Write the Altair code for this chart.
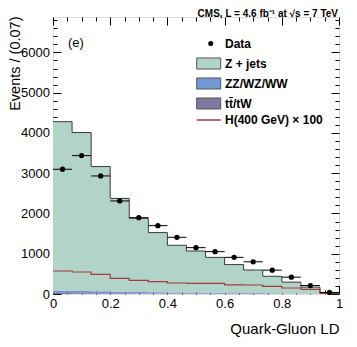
import altair as alt
import pandas as pd

# ---- data ----
edges = [i / 15 for i in range(16)]
zjets = [4203, 3938, 3099, 2317, 1828, 1479, 1170, 1032, 878, 703, 573, 421, 281, 160, 29]
diboson = [55, 52, 48, 42, 38, 34, 30, 27, 24, 20, 17, 14, 10, 7, 2]
ttbar = [22, 20, 18, 16, 14, 12, 10, 9, 8, 7, 6, 5, 4, 3, 1]
higgs = [571, 547, 489, 390, 340, 306, 273, 265, 262, 228, 224, 191, 149, 117, 15]
data = [3098, 3437, 2932, 2311, 1896, 1698, 1408, 1151, 1052, 910, 800, 592, 418, 210, 38]

processes = ["Z + jets", "ZZ/WZ/WW", "t\u0074\u0304/tW"]
proc_colors = ["#b2d3c8", "#7398d6", "#7c7a9e"]
h_label = "H(400 GeV) \u00d7 100"
title_text = "CMS, L = 4.6 fb\u207b\u00b9 at \u221as = 7 TeV"
x_ticks = [round(i * 0.05, 2) for i in range(21)]
y_ticks = list(range(0, 6801, 200))
x_labels = [0, 0.2, 0.4, 0.6, 0.8, 1]
y_labels = [0, 1000, 2000, 3000, 4000, 5000, 6000]

W, H = 286, 277
FONT = "Liberation Sans"

# ---- tables ----
rows = []
for name, vals, order in [(processes[2], ttbar, 0), (processes[1], diboson, 1), (processes[0], zjets, 2)]:
    for i, e in enumerate(edges):
        rows.append({"proc": name, "x": e, "v": vals[min(i, 14)], "ord": order})
stack_df = pd.DataFrame(rows)

totals = [a + b + c for a, b, c in zip(zjets, diboson, ttbar)]
step_df = pd.DataFrame({"x": edges, "v": totals + [totals[-1]]})
h_df = pd.DataFrame({"x": edges, "v": higgs + [higgs[-1]], "lab": h_label})
pt_df = pd.DataFrame({
    "lo": edges[:-1], "hi": edges[1:],
    "c": [(a + b) / 2 for a, b in zip(edges[:-1], edges[1:])],
    "v": data, "lab": "Data",
})

xs = alt.Scale(domain=[0, 1], nice=False, zero=False)
ys = alt.Scale(domain=[0, 6880], nice=False)

x_major = "abs(datum.value*5 - round(datum.value*5)) < 0.000001"
y_major = "datum.value % 1000 === 0"

def tick_axis(orient, offset, values, test):
    return alt.Axis(orient=orient, offset=offset, values=values, labels=False, domain=False,
                    grid=False, title=None, ticks=True, tickColor="black", tickWidth=1,
                    tickSize={"condition": {"test": test, "value": 8}, "value": 4})

x_lab_axis = alt.Axis(orient="bottom", values=x_labels, format="~g", ticks=False, tickSize=0,
                      domain=False, grid=False, labelFont=FONT, labelFontSize=13, labelPadding=3,
                      labelColor="black", labelFlush=False,
                      title="Quark-Gluon LD", titleFont=FONT, titleFontSize=15, titleFontWeight="normal",
                      titleAnchor="end", titleAlign="right", titleBaseline="alphabetic",
                      titleX=W, titleY=39, titleColor="black")
y_lab_axis = alt.Axis(orient="left", values=y_labels, format="d", ticks=False, tickSize=0, domain=False,
                      grid=False, labelFont=FONT, labelFontSize=13, labelPadding=3.5, labelColor="black",
                      title="Events / (0.07)", titleFont=FONT, titleFontSize=14.5,
                      titleFontWeight="normal", titleAngle=270, titleAlign="right",
                      titleBaseline="alphabetic", titleX=-34, titleY=-1, titleColor="black")

legend_common = dict(orient="none", title=None, labelFont=FONT, labelFontSize=12,
                     labelFontWeight="bold", labelColor="black")

areas = alt.Chart(stack_df).mark_area(interpolate="step-after", opacity=1).encode(
    x=alt.X("x:Q", scale=xs, axis=x_lab_axis),
    y=alt.Y("v:Q", scale=ys, stack="zero", axis=y_lab_axis),
    fill=alt.Fill("proc:N", scale=alt.Scale(domain=processes, range=proc_colors),
                  legend=alt.Legend(symbolType="M-2,-0.92H2V0.92H-2Z", symbolSize=144,
                                    symbolStrokeColor="#555555", symbolStrokeWidth=1,
                                    symbolOpacity=1, labelOffset=9.8, rowPadding=3,
                                    legendX=149.2, legendY=40, **legend_common)),
    order=alt.Order("ord:Q"),
)

outline = alt.Chart(step_df).mark_line(interpolate="step-after", color="#3a3a3a", strokeWidth=1).encode(
    x=alt.X("x:Q", scale=xs, axis=tick_axis("top", -H, x_ticks, x_major)),
    y=alt.Y("v:Q", scale=ys, axis=tick_axis("right", -W, y_ticks, y_major)),
)

hline = alt.Chart(h_df).mark_line(interpolate="step-after", strokeWidth=1.2).encode(
    x=alt.X("x:Q", scale=xs, axis=tick_axis("bottom", -H, x_ticks, x_major)),
    y=alt.Y("v:Q", scale=ys, axis=tick_axis("left", -W, y_ticks, y_major)),
    color=alt.Color("lab:N", scale=alt.Scale(domain=[h_label], range=["#a23c3c"]),
                    legend=alt.Legend(symbolType="M-2,0H2", symbolSize=144, symbolStrokeWidth=1.5,
                                      labelOffset=9.3, legendX=148.7, legendY=96,
                                      **legend_common)),
)

ebars = alt.Chart(pt_df).mark_rule(color="black", strokeWidth=1).encode(
    x=alt.X("lo:Q", scale=xs, axis=None),
    x2="hi:Q",
    y=alt.Y("v:Q", scale=ys, axis=None),
)

points = alt.Chart(pt_df).mark_point(filled=True, color="black", size=28, opacity=1).encode(
    x=alt.X("c:Q", scale=xs, axis=None),
    y=alt.Y("v:Q", scale=ys, axis=None),
    shape=alt.Shape("lab:N", scale=alt.Scale(domain=["Data"], range=["circle"]),
                    legend=alt.Legend(symbolSize=25, symbolFillColor="black", symbolStrokeWidth=0,
                                      labelOffset=8.3, legendX=151.7, legendY=20.5, **legend_common)),
)

tag = alt.Chart(pd.DataFrame({"t": ["(e)"]})).mark_text(
    align="left", baseline="middle", font=FONT, fontSize=13, color="black"
).encode(x=alt.value(15), y=alt.value(25.5), text="t:N")

head = alt.Chart(pd.DataFrame({"t": [title_text]})).mark_text(
    align="right", baseline="alphabetic", font=FONT, fontSize=10, fontWeight="bold", color="black"
).encode(x=alt.value(W - 1), y=alt.value(-0.5), text="t:N")

chart = alt.layer(areas, outline, hline, ebars, points, tag, head).resolve_axis(
    x="independent", y="independent"
).properties(
    width=W, height=H,
    autosize=alt.AutoSizeParams(type="none"),
    padding={"left": 45, "top": 9, "right": 10, "bottom": 45},
).configure_view(stroke="black", strokeWidth=1).configure(background="white")

chart.save("out.html", embed_options={"renderer": "svg", "actions": False})
